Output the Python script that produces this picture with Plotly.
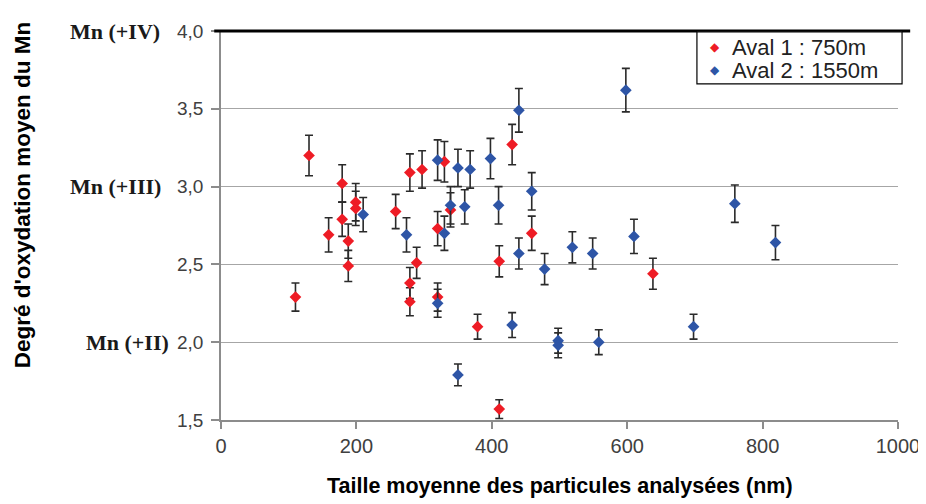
import plotly.graph_objects as go

# Aval 1 : 750m (red)
aval1_size = [110, 130, 159, 179, 179, 188, 188, 199, 199, 258, 279, 279, 279, 289, 297,
              320, 320, 330, 339, 379, 411, 411, 430, 459, 638]
aval1_dox = [2.29, 3.20, 2.69, 3.02, 2.79, 2.65, 2.49, 2.90, 2.86, 2.84, 3.09, 2.38, 2.26, 2.51, 3.11,
             2.73, 2.29, 3.16, 2.85, 2.10, 2.52, 1.57, 3.27, 2.70, 2.44]
aval1_err = [0.09, 0.13, 0.11, 0.12, 0.11, 0.11, 0.10, 0.12, 0.11, 0.11, 0.12, 0.10, 0.09, 0.10, 0.12,
             0.11, 0.09, 0.13, 0.11, 0.08, 0.10, 0.06, 0.13, 0.11, 0.10]

# Aval 2 : 1550m (blue)
aval2_size = [210, 274, 320, 320, 330, 339, 350, 350, 360, 368, 398, 410, 430, 440, 440,
              459, 478, 498, 498, 519, 549, 558, 598, 610, 698, 759, 819]
aval2_dox = [2.82, 2.69, 3.17, 2.25, 2.70, 2.88, 3.12, 1.79, 2.87, 3.11, 3.18, 2.88, 2.11, 3.49, 2.57,
             2.97, 2.47, 2.01, 1.98, 2.61, 2.57, 2.00, 3.62, 2.68, 2.10, 2.89, 2.64]
aval2_err = [0.11, 0.11, 0.13, 0.09, 0.11, 0.12, 0.12, 0.07, 0.11, 0.12, 0.13, 0.12, 0.08, 0.14, 0.10,
             0.12, 0.10, 0.08, 0.08, 0.10, 0.10, 0.08, 0.14, 0.11, 0.08, 0.12, 0.11]

series_names = ["Aval 1 : 750m", "Aval 2 : 1550m"]
series_colors = ["#EE1C25", "#2E55A6"]
x_ticks = [0, 200, 400, 600, 800, 1000]
y_ticks = [1.5, 2.0, 2.5, 3.0, 3.5, 4.0]
mn_labels = [(4.0, "Mn (+IV)", -0.087), (3.0, "Mn (+III)", -0.085), (2.0, "Mn (+II)", -0.074)]

fig = go.Figure()
for xs, ys, es, name, col in [
    (aval1_size, aval1_dox, aval1_err, series_names[0], series_colors[0]),
    (aval2_size, aval2_dox, aval2_err, series_names[1], series_colors[1]),
]:
    fig.add_trace(go.Scatter(
        x=xs, y=ys, mode="markers", name=name, showlegend=False,
        marker=dict(symbol="diamond", size=9, color=col, line=dict(width=0)),
        error_y=dict(type="data", array=es, visible=True, color="#2a2a2a", thickness=1.6, width=4),
        cliponaxis=False,
    ))

fig.update_layout(
    width=926, height=504,
    margin=dict(l=213, r=36, t=23, b=92),
    plot_bgcolor="white", paper_bgcolor="white",
    separators=", ",
    font=dict(family="Liberation Sans, Arial, sans-serif", color="#404040"),
    showlegend=False,
    xaxis=dict(
        range=[0, 1000], tickvals=x_ticks, showgrid=False, zeroline=False,
        showline=True, linecolor="#8c8c8c", linewidth=1.5,
        ticks="outside", ticklen=7, tickcolor="#8c8c8c", tickwidth=1.5,
        tickfont=dict(size=20, color="#404040"), automargin=False,
    ),
    yaxis=dict(
        range=[1.5, 4.0], tickvals=y_ticks, tickformat=".1f",
        showgrid=True, gridcolor="#a6a6a6", gridwidth=1.2, zeroline=False,
        showline=True, linecolor="#8c8c8c", linewidth=1.5,
        ticks="outside", ticklen=8, tickcolor="#8c8c8c", tickwidth=1.5,
        tickfont=dict(size=19, color="#404040"), ticklabelstandoff=4, automargin=False,
    ),
)

# thick black top line at Mn(+IV)
fig.add_shape(type="line", xref="paper", yref="paper", x0=-0.01, x1=1.018, y0=1.0, y1=1.0,
              line=dict(color="black", width=3))

# legend box (drawn manually to match the compact original layout)
fig.add_shape(type="rect", xref="paper", yref="paper", x0=0.703, x1=1.006, y0=0.864, y1=0.998,
              line=dict(color="black", width=1.2), fillcolor="white", layer="above")
for i, (name, col) in enumerate(zip(series_names, series_colors)):
    yy = 0.958 - i * 0.059
    fig.add_annotation(x=0.729, y=yy, xref="paper", yref="paper", text="◆", showarrow=False,
                       xanchor="center", yanchor="middle", font=dict(size=12, color=col))
    fig.add_annotation(x=0.752, y=yy, xref="paper", yref="paper", text=name, showarrow=False,
                       xanchor="left", yanchor="middle", font=dict(size=22, color="#222222"))

for yv, txt, xp in mn_labels:
    fig.add_annotation(x=xp, y=yv, xref="paper", yref="y", text="<b>%s</b>" % txt,
                       showarrow=False, xanchor="right", yanchor="middle",
                       font=dict(family="Liberation Serif, Times New Roman, serif", size=22, color="#1a1a1a"))

fig.add_annotation(x=-0.294, y=0.58, xref="paper", yref="paper",
                   text="<b>Degré d'oxydation moyen du Mn</b>", textangle=-90, showarrow=False,
                   xanchor="center", yanchor="middle",
                   font=dict(size=22.5, color="black"))
fig.add_annotation(x=0.5, y=-0.17, xref="paper", yref="paper",
                   text="<b>Taille moyenne des particules analysées (nm)</b>", showarrow=False,
                   xanchor="center", yanchor="middle",
                   font=dict(size=21.5, color="black"))

fig.write_html("out.html")
